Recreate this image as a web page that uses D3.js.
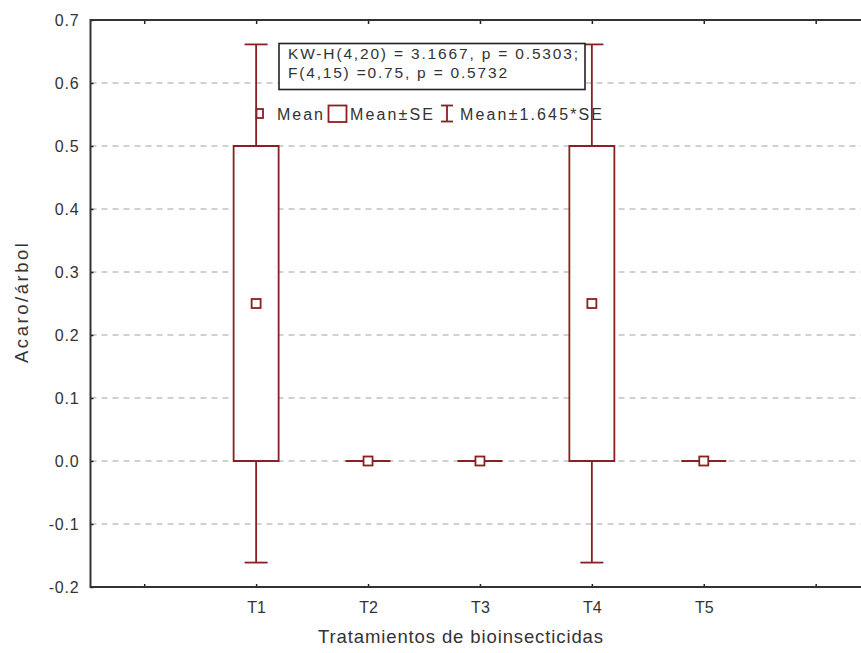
<!DOCTYPE html>
<html>
<head>
<meta charset="utf-8">
<script src="https://cdn.jsdelivr.net/npm/d3@7"></script>
<style>
  html, body { margin: 0; padding: 0; background: #fff; }
  svg { display: block; font-family: "Liberation Sans", Arial, sans-serif; }
</style>
</head>
<body>
<svg id="chart" width="861" height="653"></svg>
<script>
// Treatment groups and their summary statistics
const categories = ["T1", "T2", "T3", "T4", "T5"];
const means = [0.25, 0, 0, 0.25, 0];
const stdErrors = [0.25, 0, 0, 0.25, 0];
const seMultiplier = 1.645;
const yTicks = [-0.2, -0.1, 0.0, 0.1, 0.2, 0.3, 0.4, 0.5, 0.6, 0.7];
const statLines = ["KW-H(4,20) = 3.1667, p = 0.5303;", "F(4,15) =0.75, p = 0.5732"];
const legendLabels = ["Mean", "Mean\u00b1SE", "Mean\u00b11.645*SE"];

const svg = d3.select("#chart");
const colour = "#8a1f24";
const ink = "#333";
const plotLeft = 90.5, plotTop = 20, plotBottom = 587, plotRight = 875;

// x positions: categories sit at 1..5, with blank slots at 0 and 6
const x = d3.scaleLinear().domain([-0.48, 6.53]).range([plotLeft, plotRight]);
const y = d3.scaleLinear().domain([-0.2, 0.7]).range([plotBottom, plotTop]);

// dashed horizontal grid
svg.append("g").selectAll("line")
  .data(yTicks.filter(t => t > -0.2 && t < 0.7))
  .join("line")
  .attr("x1", plotLeft).attr("x2", plotRight)
  .attr("y1", d => y(d)).attr("y2", d => y(d))
  .attr("stroke", "#c2c2c2").attr("stroke-width", 1.3)
  .attr("stroke-dasharray", "6,5");

// y axis (ticks inside)
const yAxis = d3.axisLeft(y).tickValues(yTicks)
  .tickFormat(d => d3.format(".1f")(d).replace("\u2212", "-"))
  .tickSize(-3).tickPadding(11);
const gy = svg.append("g").attr("transform", `translate(${plotLeft},0)`).call(yAxis);
gy.select(".domain").remove();
gy.selectAll(".tick line").attr("stroke", "#222").attr("stroke-width", 1.5);
gy.selectAll("text").attr("font-size", 16).attr("letter-spacing", 0.8).attr("fill", ink)
  .attr("dy", "0.36em");

// x axis (ticks inside, bottom and top)
const xTickVals = [0, 1, 2, 3, 4, 5, 6];
const xAxis = d3.axisBottom(x).tickValues(xTickVals)
  .tickFormat(d => (d >= 1 && d <= 5) ? categories[d - 1] : "")
  .tickSize(-3).tickPadding(15);
const gx = svg.append("g").attr("transform", `translate(0,${plotBottom})`).call(xAxis);
gx.select(".domain").remove();
gx.selectAll(".tick line").attr("stroke", "#222").attr("stroke-width", 1.5);
gx.selectAll("text").attr("font-size", 16).attr("fill", ink);

const xTop = d3.axisTop(x).tickValues(xTickVals).tickFormat("").tickSize(-4);
const gt = svg.append("g").attr("transform", `translate(0,${plotTop})`).call(xTop);
gt.select(".domain").remove();
gt.selectAll(".tick line").attr("stroke", "#222").attr("stroke-width", 1.5);

// plot frame
svg.append("rect")
  .attr("x", plotLeft).attr("y", plotTop)
  .attr("width", plotRight - plotLeft).attr("height", plotBottom - plotTop)
  .attr("fill", "none").attr("stroke", "#333").attr("stroke-width", 2);

// whiskers, boxes and means
const boxHalf = 22.5, capHalf = 11.5, markHalf = 4.5, lw = 1.8;
const groups = svg.append("g").selectAll("g")
  .data(categories.map((c, i) => ({ c, i, m: means[i], se: stdErrors[i] })))
  .join("g");

groups.append("line")
  .attr("x1", d => x(d.i + 1)).attr("x2", d => x(d.i + 1))
  .attr("y1", d => y(d.m + seMultiplier * d.se))
  .attr("y2", d => y(d.m - seMultiplier * d.se))
  .attr("stroke", colour).attr("stroke-width", lw);
groups.filter(d => d.se > 0).each(function (d) {
  const g = d3.select(this);
  [d.m + seMultiplier * d.se, d.m - seMultiplier * d.se].forEach(v => {
    g.append("line")
      .attr("x1", x(d.i + 1) - capHalf).attr("x2", x(d.i + 1) + capHalf)
      .attr("y1", y(v)).attr("y2", y(v))
      .attr("stroke", colour).attr("stroke-width", lw);
  });
});
// box drawn as a path so that a zero-height box still shows as a line
groups.append("path")
  .attr("d", d => {
    const x0 = x(d.i + 1) - boxHalf, x1 = x(d.i + 1) + boxHalf;
    const y0 = y(d.m + d.se), y1 = y(d.m - d.se);
    return `M${x0},${y0}H${x1}V${y1}H${x0}Z`;
  })
  .attr("fill", "#fff").attr("stroke", colour).attr("stroke-width", lw);
groups.append("rect")
  .attr("x", d => x(d.i + 1) - markHalf)
  .attr("y", d => y(d.m) - markHalf)
  .attr("width", markHalf * 2).attr("height", markHalf * 2)
  .attr("fill", "#fff").attr("stroke", colour).attr("stroke-width", lw);

// statistics box
const sb = svg.append("g");
sb.append("rect").attr("x", 279).attr("y", 43.5).attr("width", 306).attr("height", 46)
  .attr("fill", "#fff").attr("stroke", "#222").attr("stroke-width", 1.6);
const statWidths = [290, 219];
sb.selectAll("text").data(statLines).join("text")
  .attr("x", 288).attr("y", (d, i) => 58.5 + i * 19)
  .attr("font-size", 15.5).attr("fill", ink)
  .attr("textLength", (d, i) => statWidths[i]).attr("lengthAdjust", "spacing")
  .text(d => d);

// legend row
const ly = 113.5;
const lg = svg.append("g");
lg.append("rect").attr("x", 256.5).attr("y", ly - 4.5).attr("width", 6.5).attr("height", 9)
  .attr("fill", "#fff").attr("stroke", colour).attr("stroke-width", lw);
const legendX = [277, 350, 460], legendW = [46, 83, 142];
lg.selectAll("text").data(legendLabels).join("text")
  .attr("x", (d, i) => legendX[i]).attr("y", ly + 6)
  .attr("font-size", 16).attr("fill", ink)
  .attr("textLength", (d, i) => legendW[i]).attr("lengthAdjust", "spacing")
  .text(d => d);
lg.append("rect").attr("x", 328.5).attr("y", ly - 8).attr("width", 18).attr("height", 16.5)
  .attr("fill", "#fff").attr("stroke", colour).attr("stroke-width", lw);
lg.append("line").attr("x1", 447).attr("x2", 447).attr("y1", ly - 8).attr("y2", ly + 8)
  .attr("stroke", colour).attr("stroke-width", lw);
[ly - 8, ly + 8].forEach(v => lg.append("line").attr("x1", 441).attr("x2", 453)
  .attr("y1", v).attr("y2", v).attr("stroke", colour).attr("stroke-width", lw));

// axis titles
svg.append("text").attr("x", 318).attr("y", 643)
  .attr("font-size", 18.5).attr("fill", ink)
  .attr("textLength", 285).attr("lengthAdjust", "spacing")
  .text("Tratamientos de bioinsecticidas");
svg.append("text").attr("transform", "translate(28,363) rotate(-90)")
  .attr("font-size", 18.5).attr("fill", ink)
  .attr("textLength", 120).attr("lengthAdjust", "spacing")
  .text("Acaro/árbol");
</script>
</body>
</html>
